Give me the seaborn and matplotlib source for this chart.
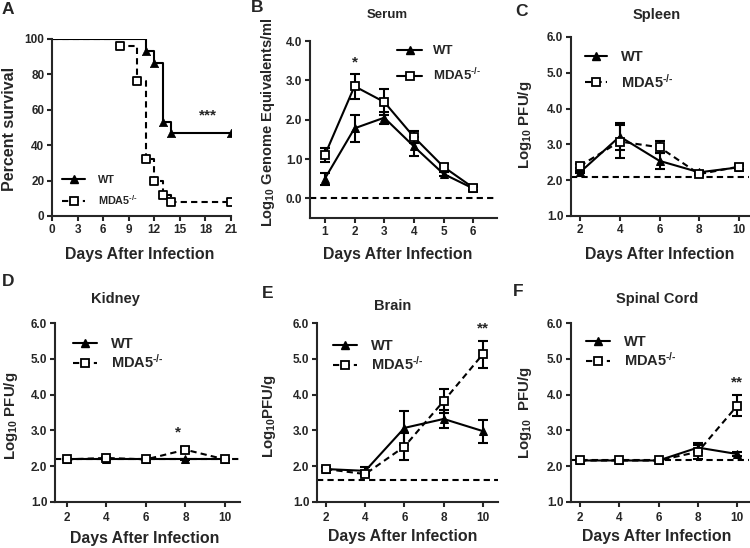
import matplotlib
matplotlib.use("Agg")
import matplotlib.pyplot as plt
from matplotlib.lines import Line2D
import seaborn as sns

# ---- data ----
# A: survival (Kaplan-Meier steps)
wt_surv_days = [0, 11, 12, 13, 14, 21]
wt_surv = [100, 93.3, 86.7, 53.3, 46.7, 46.7]
mda_surv_days = [0, 8, 10, 11, 12, 13, 14, 21]
mda_surv = [100, 96, 76, 32, 20, 12, 8, 8]

# B: serum
serum_days = [1, 2, 3, 4, 5, 6]
serum_wt = [0.50, 1.78, 2.05, 1.32, 0.62, 0.25]
serum_wt_err = [0.15, 0.35, 0.15, 0.25, 0.05, 0.05]
serum_mda = [1.10, 2.85, 2.45, 1.56, 0.80, 0.27]
serum_mda_err = [0.17, 0.32, 0.32, 0.15, 0.08, 0.08]

# C-F: tissues
tissue_days = [2, 4, 6, 8, 10]
spleen_wt = [2.22, 3.22, 2.54, 2.22, 2.36]
spleen_wt_err = [0.03, 0.38, 0.22, 0.03, 0.05]
spleen_mda = [2.40, 3.08, 2.92, 2.17, 2.38]
spleen_mda_err = [0.05, 0.45, 0.17, 0.03, 0.08]

kidney_wt = [2.19, 2.19, 2.19, 2.19, 2.19]
kidney_wt_err = [0.02, 0.02, 0.02, 0.02, 0.02]
kidney_mda = [2.19, 2.23, 2.19, 2.46, 2.19]
kidney_mda_err = [0.02, 0.03, 0.02, 0.07, 0.02]

brain_wt = [1.92, 1.87, 3.07, 3.32, 2.98]
brain_wt_err = [0.05, 0.10, 0.47, 0.25, 0.32]
brain_mda = [1.92, 1.78, 2.55, 3.82, 5.13]
brain_mda_err = [0.05, 0.05, 0.37, 0.33, 0.38]

cord_wt = [2.16, 2.16, 2.16, 2.52, 2.34]
cord_wt_err = [0.02, 0.02, 0.02, 0.13, 0.05]
cord_mda = [2.16, 2.16, 2.16, 2.40, 3.69]
cord_mda_err = [0.02, 0.02, 0.02, 0.20, 0.30]

# detection limits
serum_limit = 0.0
spleen_limit = 2.1
kidney_limit = 2.19
brain_limit = 1.62
cord_limit = 2.16

# ---- style ----
sns.set_style("ticks")
plt.rcParams["font.family"] = ["Liberation Sans", "DejaVu Sans"]
plt.rcParams["font.weight"] = "bold"
plt.rcParams["axes.labelweight"] = "bold"
plt.rcParams["mathtext.fontset"] = "custom"
plt.rcParams["mathtext.rm"] = "Liberation Sans:bold"
plt.rcParams["mathtext.it"] = "Liberation Sans:bold"
plt.rcParams["mathtext.bf"] = "Liberation Sans:bold"

W, H = 750, 548
DASH = (0, (3, 2))
LW = 1.5
MDA_LABEL = r"MDA5$^{\text{-/-}}$"


def box(left, top, right, bottom):
    return [left / W, 1 - bottom / H, (right - left) / W, (bottom - top) / H]


def ftext(x, y, s, **kw):
    fig.text(x / W, 1 - y / H, s, ha="center", va="center", **kw)


def style_axes(ax, pad=2):
    for side in ["top", "right"]:
        ax.spines[side].set_visible(False)
    for side in ["left", "bottom"]:
        ax.spines[side].set_linewidth(LW)
    ax.tick_params(width=LW, length=3.5, labelsize=8.5, pad=2)
    ax.tick_params(axis="x", pad=pad)
    for lab in ax.get_xticklabels() + ax.get_yticklabels():
        lab.set_fontweight("bold")


def legend_handles(mda_dashed):
    wt_h = Line2D([], [], color="k", lw=LW, marker="^", ms=6)
    mda_h = Line2D([], [], color="k", lw=LW, ls=DASH if mda_dashed else "-",
                   marker="s", mfc="white", mec="k", mew=1.3, ms=5.5)
    return [wt_h, mda_h]


def add_legend(ax, mda_dashed, x, y_wt, size, spacing, handle_px, pad_px):
    fpx = size * 100 / 72
    ax.legend(legend_handles(mda_dashed), ["WT", MDA_LABEL], loc="upper left",
              bbox_to_anchor=(x / W, 1 - (y_wt - 0.45 * fpx) / H),
              bbox_transform=fig.transFigure, frameon=False,
              handlelength=handle_px / fpx, handletextpad=pad_px / fpx,
              labelspacing=spacing, borderpad=0, borderaxespad=0,
              prop={"weight": "bold", "size": size})


def time_panel(ax, days, wt, wt_err, mda, mda_err, limit, mda_dashed):
    ax.axhline(limit, color="k", lw=LW, ls=DASH, zorder=1)
    ax.errorbar(days, wt, yerr=wt_err, fmt="none", ecolor="k", elinewidth=LW,
                capsize=3.5, capthick=LW, zorder=2)
    ax.errorbar(days, mda, yerr=mda_err, fmt="none", ecolor="k", elinewidth=LW,
                capsize=3.5, capthick=LW, zorder=2)
    sns.lineplot(x=days, y=wt, ax=ax, color="k", lw=LW, marker="^", ms=6,
                 mec="k", zorder=3)
    sns.lineplot(x=days, y=mda, ax=ax, color="k", lw=LW,
                 ls=DASH if mda_dashed else "-", marker="s", ms=5.5,
                 mfc="white", mec="k", mew=1.3, zorder=4)


fig = plt.figure(figsize=(7.5, 5.48), dpi=100)

# ---- A ----
ax = fig.add_axes(box(52, 39, 231, 216))
sns.lineplot(x=wt_surv_days, y=wt_surv, ax=ax, color="k", lw=LW,
             drawstyle="steps-post", zorder=2)
sns.lineplot(x=mda_surv_days, y=mda_surv, ax=ax, color="k", lw=LW, ls=DASH,
             drawstyle="steps-post", zorder=2)
sns.scatterplot(x=wt_surv_days[1:], y=wt_surv[1:], ax=ax, marker="^", s=36,
                color="k", edgecolor="k", zorder=3)
sns.scatterplot(x=mda_surv_days[1:], y=mda_surv[1:], ax=ax, marker="s", s=28,
                facecolor="white", edgecolor="k", linewidth=1.3, zorder=3)
ax.set_xlim(0, 21)
ax.set_ylim(0, 100)
ax.set_xticks(range(0, 22, 3))
ax.set_yticks(range(0, 101, 20))
ax.text(18.3, 57, "***", ha="center", va="center", fontsize=11, fontweight="bold")
style_axes(ax)
add_legend(ax, True, 62, 180, 7.8, 0.7, 23, 13)

# ---- B ----
ax = fig.add_axes(box(310, 41, 497, 218))
time_panel(ax, serum_days, serum_wt, serum_wt_err, serum_mda, serum_mda_err,
           serum_limit, False)
ax.set_xlim(0.5, 6.8)
ax.set_ylim(-0.5, 4.0)
ax.set_xticks(serum_days)
ax.set_yticks([0, 1, 2, 3, 4])
ax.set_yticklabels(["0.0", "1.0", "2.0", "3.0", "4.0"])
ax.text(2, 3.45, "*", ha="center", va="center", fontsize=11, fontweight="bold")
style_axes(ax)
add_legend(ax, False, 397, 51, 9.5, 0.7, 25, 11)

# ---- C-F ----
tissue_panels = [
    (box(571, 37, 749, 216), (1.55, 10.5), spleen_wt, spleen_wt_err, spleen_mda,
     spleen_mda_err, spleen_limit, (585, 57), 0.55, 22, 2),
    (box(55, 323, 240, 502), (1.4, 10.76), kidney_wt, kidney_wt_err, kidney_mda,
     kidney_mda_err, kidney_limit, (73, 344), 0.12, 24, 4),
    (box(317, 323, 498, 502), (1.54, 10.77), brain_wt, brain_wt_err, brain_mda,
     brain_mda_err, brain_limit, (333, 346), 0.12, 24, 4),
    (box(571, 323, 749, 502), (1.54, 10.6), cord_wt, cord_wt_err, cord_mda,
     cord_mda_err, cord_limit, (586, 342), 0.12, 24, 4),
]
tissue_axes = []
for pos, xl, wt, wt_e, mda, mda_e, lim, leg_xy, leg_sp, leg_h, xpad in tissue_panels:
    ax = fig.add_axes(pos)
    time_panel(ax, tissue_days, wt, wt_e, mda, mda_e, lim, True)
    ax.set_xlim(*xl)
    ax.set_ylim(1.0, 6.0)
    ax.set_xticks(tissue_days)
    ax.set_yticks([1, 2, 3, 4, 5, 6])
    ax.set_yticklabels(["1.0", "2.0", "3.0", "4.0", "5.0", "6.0"])
    style_axes(ax, pad=xpad)
    add_legend(ax, True, leg_xy[0], leg_xy[1], 10.5, leg_sp, leg_h, 14)
    tissue_axes.append(ax)

tissue_axes[1].text(7.6, 2.95, "*", ha="center", va="center", fontsize=11, fontweight="bold")
tissue_axes[2].text(10, 5.85, "**", ha="center", va="center", fontsize=11, fontweight="bold")
tissue_axes[3].text(10, 4.35, "**", ha="center", va="center", fontsize=11, fontweight="bold")

# ---- titles, axis labels, panel letters ----
for x, y, s in [(8, 9, "A"), (257, 8, "B"), (521, 12, "C"),
                (8, 282, "D"), (268, 293, "E"), (518, 291, "F")]:
    ftext(x, y, s, fontsize=12.5, fontweight="bold")

for x, y, s, fs in [(387, 15, "Serum", 9.5), (657, 15, "Spleen", 10.5),
                    (115, 299, "Kidney", 10.5), (393, 306, "Brain", 10.5),
                    (657, 299, "Spinal Cord", 10.5)]:
    ftext(x, y, s, fontsize=fs, fontweight="bold")

for x, y in [(140, 255), (398, 255), (660, 255), (145, 538), (403, 537), (657, 537)]:
    ftext(x, y, "Days After Infection", fontsize=11.4, fontweight="bold")

ftext(10, 129, "Percent survival", fontsize=11.5, fontweight="bold", rotation=90)
ftext(268, 122, r"Log$_{10}$ Genome Equivalents/ml", fontsize=10.5,
      fontweight="bold", rotation=90)
for x, y, s in [(525, 125, r"Log$_{10}$ PFU/g"), (11, 416, r"Log$_{10}$ PFU/g"),
                (269, 416, r"Log$_{10}$PFU/g"), (525, 413, r"Log$_{10}$  PFU/g")]:
    ftext(x, y, s, fontsize=10.8, fontweight="bold", rotation=90)

fig.savefig("out.png", dpi=100)
